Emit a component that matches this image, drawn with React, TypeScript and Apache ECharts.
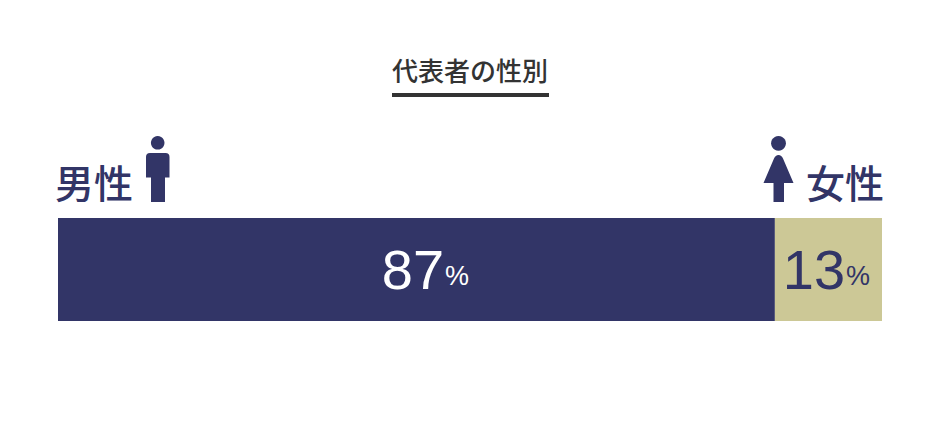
import React, { useEffect, useRef } from "react";
import * as echarts from "echarts";

const chartTitle = "代表者の性別";
const genders = ["男性", "女性"];
const shares = [87, 13];
const unit = "%";

const NAVY = "#323567";
const KHAKI = "#CCC896";
const CJK = '"Noto Sans CJK JP", sans-serif';
const LATIN = '"Liberation Sans", Arial, sans-serif';

echarts.graphic.registerShape(
  "manBody",
  echarts.graphic.extendPath(
    "M150 153 L165.5 153 Q169.5 153 169.5 157 L169.5 177.5 L165 177.5 L165 202 L151 202 L151 177.5 L146 177.5 L146 157 Q146 153 150 153 Z",
    {}
  )
);
echarts.graphic.registerShape(
  "womanBody",
  echarts.graphic.extendPath(
    "M778.5 155 Q781.5 155 783 158.5 L793.5 183 L784 183 L784 202 L773.5 202 L773.5 183 L763.5 183 L774 158.5 Q775.5 155 778.5 155 Z",
    {}
  )
);

const sharedLabel = (color: string, i: number, dx: number) => ({
  show: true,
  position: "inside" as const,
  offset: [dx, 0],
  formatter: `{n|${shares[i]}}{u|${unit}}`,
  rich: {
    n: { fontFamily: LATIN, fontSize: 56, color, letterSpacing: -1 },
    u: { fontFamily: LATIN, fontSize: 27, color, padding: [12, 0, 0, 1] },
  },
});

export default function App() {
  const ref = useRef<HTMLDivElement>(null);
  useEffect(() => {
    document.body.style.margin = "0";
    const chart = echarts.init(ref.current!, undefined, { renderer: "svg" });
    chart.setOption({
      animation: false,
      title: {
        text: chartTitle,
        left: 392,
        top: 56,
        textStyle: { fontFamily: CJK, fontSize: 26, fontWeight: 500, color: "#333333" },
        padding: 0,
      },
      grid: { left: 58, top: 218, width: 824, height: 103 },
      xAxis: { type: "value", min: 0, max: 100, show: false },
      yAxis: { type: "category", data: ["代表者"], show: false },
      series: [
        {
          type: "bar",
          stack: "g",
          name: genders[0],
          data: [shares[0]],
          barWidth: "100%",
          itemStyle: { color: NAVY },
          label: sharedLabel("#FFFFFF", 0, 9),
        },
        {
          type: "bar",
          stack: "g",
          name: genders[1],
          data: [shares[1]],
          barWidth: "100%",
          itemStyle: { color: KHAKI },
          label: sharedLabel(NAVY, 1, -2),
        },
      ],
      graphic: [
        { type: "rect", shape: { x: 392, y: 93, width: 157, height: 4 }, style: { fill: "#333333" } },
        { type: "text", x: 55, y: 161, style: { text: genders[0], fontFamily: CJK, fontSize: 39, fontWeight: 500, fill: NAVY } },
        { type: "text", x: 806, y: 161, style: { text: genders[1], fontFamily: CJK, fontSize: 39, fontWeight: 500, fill: NAVY } },
        { type: "circle", shape: { cx: 157.7, cy: 142.8, r: 6.8 }, style: { fill: NAVY } },
        { type: "manBody", style: { fill: NAVY } },
        { type: "circle", shape: { cx: 778.5, cy: 143.3, r: 7.4 }, style: { fill: NAVY } },
        { type: "womanBody", style: { fill: NAVY } },
      ],
    });
    return () => chart.dispose();
  }, []);
  return <div ref={ref} style={{ width: 940, height: 431 }} />;
}
